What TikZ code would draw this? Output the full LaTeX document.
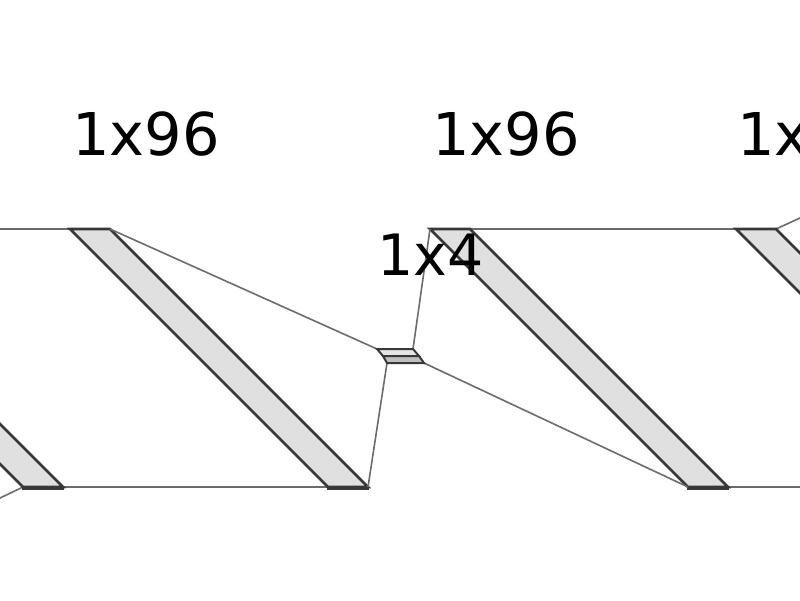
\documentclass[tikz,border=0pt]{standalone}
\usepackage{fontspec}
\setmainfont{DejaVu Sans}
\begin{document}
\begin{tikzpicture}[x=1pt,y=-1pt,
  slabface/.style={fill=black!12,draw=black!78,line width=2.6pt,line join=miter},
  frontface/.style={fill=black!30,draw=black!78,line width=1.2pt},
  link/.style={draw=black!58,line width=1.6pt},
  biglabel/.style={anchor=base west,inner sep=0pt,font=\fontsize{59}{59}\selectfont},
  smalllabel/.style={anchor=base west,inner sep=0pt,font=\fontsize{57}{57}\selectfont}]
\useasboundingbox (0,0) rectangle (800,600);
\clip (0,0) rectangle (800,600);
% slab corners: top-left, top-right, bottom-left, bottom-right
\foreach \n/\x in {0/-235,1/70,2/430,3/736}{
  \coordinate (s\n tl) at (\x,229);
  \coordinate (s\n tr) at (\x+40,229);
  \coordinate (s\n bl) at (\x+258,487);
  \coordinate (s\n br) at (\x+298,487);
}
% kernel box corners
\coordinate (ktl) at (377,349);
\coordinate (ktr) at (413,349);
\coordinate (kml) at (383,356);
\coordinate (kmr) at (419,356);
\coordinate (kbl) at (387,363);
\coordinate (kbr) at (424,363);
% free ends outside the view
\coordinate (outR) at (1016,119);
\coordinate (outL) at (-217,602);
% connectors between slabs
\draw[link] (s0tr) -- (s1tl);
\draw[link] (s0br) -- (s1bl);
\draw[link] (s2tr) -- (s3tl);
\draw[link] (s2br) -- (s3bl);
\draw[link] (s0bl) -- (outL);
\draw[link] (s3tr) -- (outR);
% slabs
\foreach \n in {0,1,2,3}{
  \draw[frontface] (s\n bl) rectangle ([shift={(0,2)}]s\n br);
  \draw[slabface] (s\n tl) -- (s\n tr) -- (s\n br) -- (s\n bl) -- cycle;
}
% kernel links
\draw[link] (s1tr) -- (ktl);
\draw[link] (s1br) -- (kbl);
\draw[link] (ktr) -- (s2tl);
\draw[link] (kbr) -- (s2bl);
% kernel box
\draw[fill=black!10,draw=black!78,line width=2pt,line join=miter]
  (ktl) -- (ktr) -- (kmr) -- (kml) -- cycle;
\draw[fill=black!25,draw=black!78,line width=2pt,line join=miter]
  (kml) -- (kmr) -- (kbr) -- (kbl) -- cycle;
% labels
\node[biglabel] (l1) at (72,155) {1x96};
\node[biglabel] (l2) at (432,155) {1x96};
\node[biglabel] (l3) at (737,155) {1x96};
\node[smalllabel] (l4) at (377,275) {1x4};
\end{tikzpicture}
\end{document}
